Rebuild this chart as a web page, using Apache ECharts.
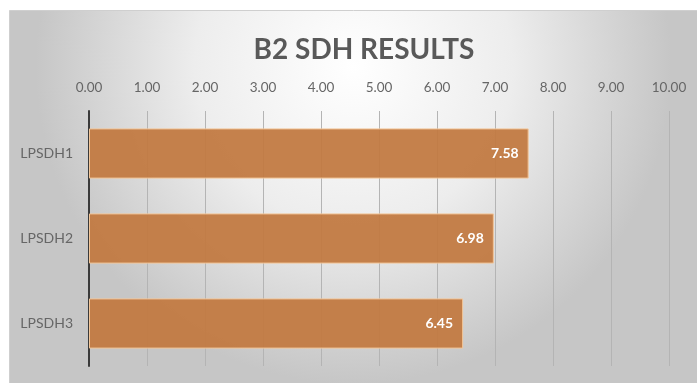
<!DOCTYPE html>
<html>
<head>
<meta charset="utf-8">
<script src="https://cdn.jsdelivr.net/npm/echarts@6/dist/echarts.min.js"></script>
<style>
html,body{margin:0;padding:0;background:#fff;}
#c{width:697px;height:383px;}
</style>
</head>
<body>
<div id="c"></div>
<script>
const titleText = "B2 SDH RESULTS";
const categories = ["LPSDH1", "LPSDH2", "LPSDH3"];
const values = [7.58, 6.98, 6.45];

const chart = echarts.init(document.getElementById('c'), null, {renderer: 'canvas'});
chart.setOption({
  animation: false,
  backgroundColor: '#ffffff',
  graphic: [{
    type: 'rect',
    left: 9, top: 10, z: -10,
    shape: {width: 688, height: 373},
    style: {
      fill: new echarts.graphic.RadialGradient(0.5, 0.15, 0.85, [
        {offset: 0, color: '#ffffff'},
        {offset: 0.5, color: '#ededed'},
        {offset: 1, color: '#c6c6c6'}
      ]),
      stroke: '#cfcfcf', lineWidth: 1
    }
  }],
  title: {
    text: titleText,
    left: 359, top: 31, textAlign: 'center',
    textStyle: {fontFamily: 'Lato', fontWeight: 'bold', fontSize: 28, color: '#595959'}
  },
  grid: {left: 89, right: 28, top: 111, bottom: 17},
  xAxis: {
    type: 'value', position: 'top', min: 0, max: 10, interval: 1,
    axisLine: {show: false}, axisTick: {show: false},
    axisLabel: {margin: 16, fontFamily: 'Lato', fontSize: 13.5, color: '#666666',
      formatter: v => v.toFixed(2)},
    splitLine: {show: true, lineStyle: {color: '#b4b4b4', width: 1}}
  },
  yAxis: {
    type: 'category', data: categories, inverse: true,
    axisLine: {show: true, lineStyle: {color: '#3a3a3a', width: 2}},
    axisTick: {show: false},
    axisLabel: {margin: 16, fontFamily: 'Lato', fontSize: 14, color: '#666666'}
  },
  series: [{
    type: 'bar', data: values, barWidth: '59%',
    itemStyle: {color: 'rgba(194,122,66,0.95)', borderColor: '#f2c597', borderWidth: 1},
    label: {show: true, position: 'insideRight', distance: 10,
      formatter: p => p.value.toFixed(2),
      fontFamily: 'Lato', fontWeight: 'bold', fontSize: 14, color: '#ffffff'}
  }]
});
</script>
</body>
</html>
